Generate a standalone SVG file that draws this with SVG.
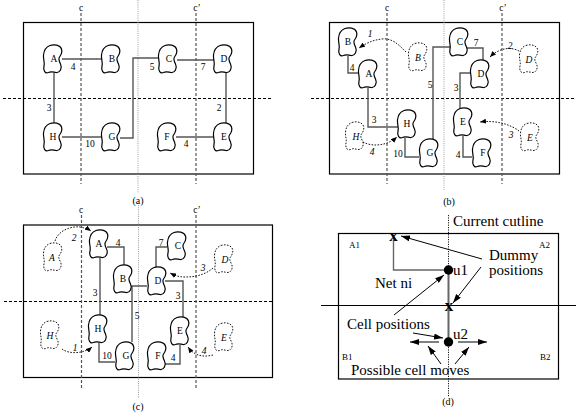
<svg xmlns="http://www.w3.org/2000/svg" xmlns:xlink="http://www.w3.org/1999/xlink" width="576" height="419" viewBox="0 0 576 419">
<style>
text{font-family:"Liberation Serif","Times New Roman",serif;fill:#000}
.lb{font-size:9.5px;text-anchor:middle}
.it{font-style:italic}
.cap{font-size:10px;text-anchor:middle}
.big{font-size:15px}
.sm{font-size:9px}
.frame{fill:none;stroke:#000;stroke-width:1.2}
.blob{fill:#fff;stroke:#000;stroke-width:1.2}
.dblob{fill:none;stroke:#000;stroke-width:0.9;stroke-dasharray:1.6 1.4}
.net{fill:none;stroke:#555;stroke-width:1.4}
.cut{fill:none;stroke:#555;stroke-width:1.2;stroke-dasharray:3 2}
.hcut{fill:none;stroke:#000;stroke-width:1;stroke-dasharray:3 2}
.mid{fill:none;stroke:#888;stroke-width:0.8;stroke-dasharray:1 1.2}
.darr{fill:none;stroke:#000;stroke-width:0.9;stroke-dasharray:1.6 1.4;marker-end:url(#ah2)}
.arr{fill:none;stroke:#000;stroke-width:1;marker-end:url(#ah)}
</style>
<defs>
<path id="blob" d="M -3,-13.5 C 1,-15 7,-14 8.5,-10 C 9.5,-7 8,-4 6.5,-2 C 5,0 6,2 7.5,5 C 9.5,9 7,14 3,13.5 C 0,13 -2,12 -4.5,13.5 C -8,15 -10,11 -9,7 C -8,3 -10,0 -9.5,-4 C -9,-9 -7,-12 -3,-13.5 Z"/>
<marker id="ah" markerUnits="userSpaceOnUse" markerWidth="9" markerHeight="6" refX="9" refY="3" orient="auto"><path d="M0,0 L9,3 L0,6 Z" fill="#000"/></marker>
<marker id="ah2" markerUnits="userSpaceOnUse" markerWidth="6" markerHeight="5" refX="6" refY="2.5" orient="auto"><path d="M0,0 L6,2.5 L0,5 Z" fill="#000"/></marker>
</defs>

<!-- ===== Panel (a) ===== -->
<g id="panel-a-frame">
<rect class="frame" x="23.5" y="22.5" width="230" height="151.5"/>
<line class="hcut" x1="3" y1="98.5" x2="273" y2="98.5"/>
<line class="cut" x1="81" y1="13" x2="81" y2="184"/>
<line class="cut" x1="196" y1="13" x2="196" y2="184"/>
<line class="mid" x1="138" y1="0" x2="138" y2="193"/>
<text class="lb" x="81" y="11">c</text>
<text class="lb" x="197" y="11">c’</text>
<text class="cap" x="138" y="204">(a)</text>
</g>
<g id="a-connectors">
<path class="net" d="M62,59 H102"/>
<path class="net" d="M54,73 V124"/>
<path class="net" d="M62,137 H102"/>
<path class="net" d="M120,138 H133 V58 H159"/>
<path class="net" d="M177,60 H214"/>
<path class="net" d="M226,73 V124"/>
<path class="net" d="M176,137 H214"/>
<text class="lb" x="73" y="70">4</text>
<text class="lb" x="49" y="111">3</text>
<text class="lb" x="90" y="147">10</text>
<text class="lb" x="152" y="70">5</text>
<text class="lb" x="203" y="70">7</text>
<text class="lb" x="219" y="111">2</text>
<text class="lb" x="186" y="147">4</text>
</g>
<g id="a-A"><use href="#blob" x="53" y="59" class="blob"/><text class="lb" x="54" y="62">A</text></g>
<g id="a-B"><use href="#blob" x="111" y="59" class="blob"/><text class="lb" x="112" y="62">B</text></g>
<g id="a-C"><use href="#blob" x="168" y="59" class="blob"/><text class="lb" x="169" y="62">C</text></g>
<g id="a-D"><use href="#blob" x="223" y="59" class="blob"/><text class="lb" x="224" y="62">D</text></g>
<g id="a-H"><use href="#blob" x="53" y="137" class="blob"/><text class="lb" x="53" y="140">H</text></g>
<g id="a-G"><use href="#blob" x="111" y="137" class="blob"/><text class="lb" x="112" y="140">G</text></g>
<g id="a-F"><use href="#blob" x="167" y="137" class="blob"/><text class="lb" x="167" y="140">F</text></g>
<g id="a-E"><use href="#blob" x="223" y="137" class="blob"/><text class="lb" x="224" y="140">E</text></g>

<!-- ===== Panel (b) ===== -->
<g id="panel-b-frame">
<rect class="frame" x="329.5" y="22.5" width="230" height="151.5"/>
<line class="hcut" x1="311" y1="98.5" x2="576" y2="98.5"/>
<line class="cut" x1="387" y1="13" x2="387" y2="184"/>
<line class="cut" x1="502" y1="13" x2="502" y2="184"/>
<line class="mid" x1="444" y1="0" x2="444" y2="190"/>
<text class="lb" x="387" y="11">c</text>
<text class="lb" x="503" y="11">c’</text>
<text class="cap" x="449" y="205">(b)</text>
</g>
<g id="b-connectors">
<path class="net" d="M348,56 V73 H358"/>
<path class="net" d="M368,88 V127 H398"/>
<path class="net" d="M405,138 V157 H419"/>
<path class="net" d="M433,140 V47 H450"/>
<path class="net" d="M467,48 H483 V61"/>
<path class="net" d="M471,73 H460 V109"/>
<path class="net" d="M463,136 V157 H472"/>
<text class="lb" x="352" y="71">4</text>
<text class="lb" x="374" y="123">3</text>
<text class="lb" x="398" y="157">10</text>
<text class="lb" x="430" y="88">5</text>
<text class="lb" x="476" y="46">7</text>
<text class="lb" x="456" y="91">3</text>
<text class="lb" x="458" y="158">4</text>
<path class="darr" d="M406,52 C398,44 392,38 382,39 C372,40 365,44 359,48"/>
<path class="darr" d="M519,51 C512,47 500,47 490,57"/>
<path class="darr" d="M519,131 C510,124 495,120 480,122"/>
<path class="darr" d="M363,142 C372,147 387,146 397,137"/>
<text class="lb it" x="370" y="37">1</text>
<text class="lb it" x="510" y="49">2</text>
<text class="lb it" x="511" y="138">3</text>
<text class="lb it" x="372" y="155">4</text>
</g>
<g id="b-B"><use href="#blob" x="348" y="42" class="blob"/><text class="lb" x="348" y="45">B</text></g>
<g id="b-A"><use href="#blob" x="368" y="74" class="blob"/><text class="lb" x="369" y="77">A</text></g>
<g id="b-Bd"><use href="#blob" x="418" y="57" class="dblob"/><text class="lb it" x="418" y="61">B</text></g>
<g id="b-C"><use href="#blob" x="459" y="42" class="blob"/><text class="lb" x="460" y="45">C</text></g>
<g id="b-D"><use href="#blob" x="480" y="74" class="blob"/><text class="lb" x="481" y="77">D</text></g>
<g id="b-Dd"><use href="#blob" x="529" y="59" class="dblob"/><text class="lb it" x="529" y="63">D</text></g>
<g id="b-H"><use href="#blob" x="407" y="124" class="blob"/><text class="lb" x="407" y="127">H</text></g>
<g id="b-Hd"><use href="#blob" x="355" y="136" class="dblob"/><text class="lb it" x="356" y="140">H</text></g>
<g id="b-G"><use href="#blob" x="429" y="153" class="blob"/><text class="lb" x="430" y="156">G</text></g>
<g id="b-E"><use href="#blob" x="463" y="122" class="blob"/><text class="lb" x="463" y="125">E</text></g>
<g id="b-Ed"><use href="#blob" x="530" y="137" class="dblob"/><text class="lb it" x="530" y="141">E</text></g>
<g id="b-F"><use href="#blob" x="482" y="153" class="blob"/><text class="lb" x="483" y="156">F</text></g>

<!-- ===== Panel (c) ===== -->
<g id="panel-c-frame">
<rect class="frame" x="23.5" y="225" width="249" height="152.5"/>
<line class="hcut" x1="4" y1="301.5" x2="273" y2="301.5"/>
<line class="cut" x1="81.5" y1="215" x2="81.5" y2="388"/>
<line class="cut" x1="196" y1="215" x2="196" y2="388"/>
<line class="mid" x1="138.5" y1="205" x2="138.5" y2="398"/>
<text class="lb" x="81" y="213">c</text>
<text class="lb" x="197" y="213">c’</text>
<text class="cap" x="138" y="410">(c)</text>
</g>
<g id="c-connectors">
<path class="net" d="M107,247 H124 V265"/>
<path class="net" d="M100,258 V315"/>
<path class="net" d="M99,343 V362 H115"/>
<path class="net" d="M132,342 V286 H147"/>
<path class="net" d="M167,247 H156 V267"/>
<path class="net" d="M165,281 H183 V317"/>
<path class="net" d="M180,345 V364 H164"/>
<text class="lb" x="118" y="246">4</text>
<text class="lb" x="95" y="296">3</text>
<text class="lb" x="107" y="359">10</text>
<text class="lb" x="137" y="319">5</text>
<text class="lb" x="161" y="246">7</text>
<text class="lb" x="178" y="299">3</text>
<text class="lb" x="173" y="361">4</text>
<path class="darr" d="M55,241 C58,231 70,226 80,227 C85,228 88,229 91,231"/>
<path class="darr" d="M213,268 C205,275 195,277 185,277 C178,277 174,275 170,273"/>
<path class="darr" d="M62,349 C70,355 85,353 92,347"/>
<path class="darr" d="M213,355 C205,357 195,357 188,347"/>
<text class="lb it" x="74" y="241">2</text>
<text class="lb it" x="203" y="271">3</text>
<text class="lb it" x="75" y="351">1</text>
<text class="lb it" x="204" y="354">4</text>
</g>
<g id="c-A"><use href="#blob" x="99" y="244" class="blob"/><text class="lb" x="99" y="247">A</text></g>
<g id="c-Ad"><use href="#blob" x="53" y="257" class="dblob"/><text class="lb it" x="52" y="261">A</text></g>
<g id="c-B"><use href="#blob" x="123" y="279" class="blob"/><text class="lb" x="123" y="282">B</text></g>
<g id="c-C"><use href="#blob" x="177" y="246" class="blob"/><text class="lb" x="178" y="249">C</text></g>
<g id="c-D"><use href="#blob" x="157" y="281" class="blob"/><text class="lb" x="158" y="284">D</text></g>
<g id="c-Dd"><use href="#blob" x="224" y="259" class="dblob"/><text class="lb it" x="225" y="263">D</text></g>
<g id="c-H"><use href="#blob" x="98" y="329" class="blob"/><text class="lb" x="98" y="332">H</text></g>
<g id="c-Hd"><use href="#blob" x="50" y="335" class="dblob"/><text class="lb it" x="50" y="339">H</text></g>
<g id="c-G"><use href="#blob" x="125" y="356" class="blob"/><text class="lb" x="126" y="359">G</text></g>
<g id="c-F"><use href="#blob" x="157" y="356" class="blob"/><text class="lb" x="158" y="359">F</text></g>
<g id="c-E"><use href="#blob" x="180" y="331" class="blob"/><text class="lb" x="180" y="334">E</text></g>
<g id="c-Ed"><use href="#blob" x="224" y="337" class="dblob"/><text class="lb it" x="224" y="341">E</text></g>

<!-- ===== Panel (d) ===== -->
<g id="panel-d">
<rect class="frame" x="338.5" y="233.5" width="220" height="145.5"/>
<line x1="321" y1="305.5" x2="576" y2="305.5" stroke="#000" stroke-width="1"/>
<line class="mid" x1="448.5" y1="215" x2="448.5" y2="397" style="stroke:#000;stroke-dasharray:1.2 1.2;stroke-width:0.9"/>
<text class="big" x="453" y="226">Current cutline</text>
<text class="sm" x="349" y="248">A1</text>
<text class="sm" x="539" y="248">A2</text>
<text class="sm" x="342" y="360">B1</text>
<text class="sm" x="540" y="360">B2</text>
<text class="cap" x="448" y="405">(d)</text>
</g>
<g id="d-connectors">
<path d="M393.5,237 V270 H448" fill="none" stroke="#666" stroke-width="1.4"/>
<path d="M448.5,270 V342" fill="none" stroke="#666" stroke-width="2"/>
<path class="arr" d="M482,259 L401,236"/>
<path class="arr" d="M481,267 L453,303"/>
<path class="arr" d="M394,315 L444,275"/>
<path class="arr" d="M413,333 L443,338"/>
<path class="arr" d="M439,342 L410,342"/>
<path class="arr" d="M458,342 L487,342"/>
<path class="arr" d="M441,364 L428,346"/>
<path class="arr" d="M455,364 L469,347"/>
</g>
<g id="d-x1"><text x="393.5" y="240.5" font-size="17" text-anchor="middle" font-weight="bold">x</text></g>
<g id="d-x2"><text x="449" y="310.5" font-size="17" text-anchor="middle" font-weight="bold">x</text></g>
<g id="d-u1"><circle cx="448.5" cy="270" r="4.7" fill="#000"/><text class="big" x="453" y="275">u1</text></g>
<g id="d-u2"><circle cx="448.5" cy="342" r="4.7" fill="#000"/><text class="big" x="453" y="339">u2</text></g>
<g id="d-labels">
<text class="big" x="489" y="260">Dummy</text>
<text class="big" x="489" y="275">positions</text>
<text class="big" x="375" y="288">Net ni</text>
<text class="big" x="347" y="329">Cell positions</text>
<text class="big" x="351" y="375">Possible cell moves</text>
</g>
</svg>
